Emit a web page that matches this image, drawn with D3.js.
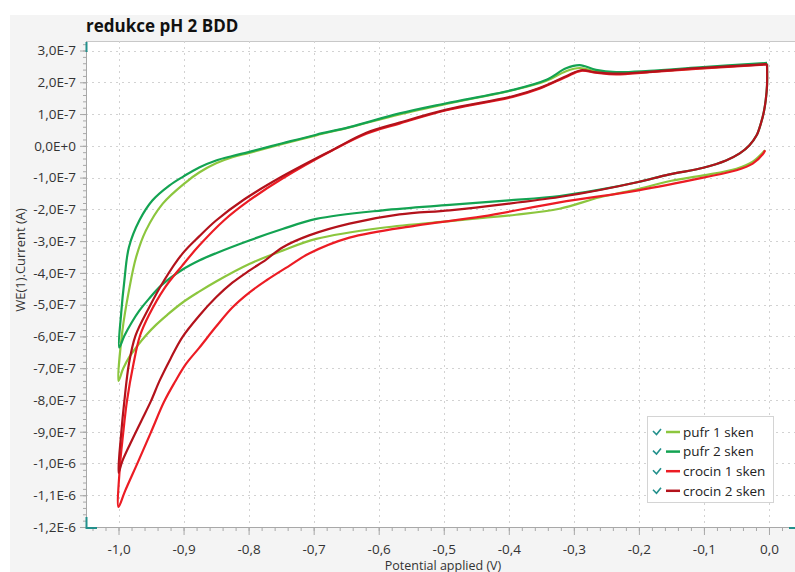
<!DOCTYPE html>
<html>
<head>
<meta charset="utf-8">
<script src="https://cdn.jsdelivr.net/npm/d3@7"></script>
<style>
  body { margin: 0; background: #fff; }
  svg { display: block; font-family: "Open Sans", "Noto Sans", sans-serif; }
</style>
</head>
<body>
<div id="graph"></div>
<script>

// cyclic voltammograms, [potential (V), current (A)], scan order
var pufr1 = [
  [-0.006, -0.14e-7], [-0.025, -0.50e-7], [-0.050, -0.72e-7], [-0.101, -0.93e-7],
  [-0.150, -1.10e-7], [-0.201, -1.36e-7], [-0.260, -1.62e-7], [-0.322, -1.98e-7],
  [-0.389, -2.17e-7], [-0.440, -2.27e-7], [-0.491, -2.37e-7], [-0.594, -2.58e-7],
  [-0.696, -2.93e-7], [-0.748, -3.30e-7], [-0.799, -3.72e-7], [-0.850, -4.27e-7],
  [-0.876, -4.59e-7], [-0.902, -4.94e-7], [-0.925, -5.32e-7], [-0.942, -5.63e-7],
  [-0.957, -5.95e-7], [-0.971, -6.30e-7], [-0.984, -6.67e-7], [-0.993, -7.02e-7],
  [-1.000, -7.40e-7],
  [-0.994, -5.82e-7], [-0.984, -4.56e-7], [-0.973, -3.51e-7], [-0.958, -2.67e-7],
  [-0.932, -1.82e-7], [-0.896, -1.14e-7], [-0.876, -0.84e-7], [-0.850, -0.55e-7],
  [-0.825, -0.36e-7], [-0.799, -0.22e-7], [-0.748, 0.06e-7], [-0.696, 0.33e-7],
  [-0.645, 0.58e-7], [-0.568, 0.99e-7], [-0.496, 1.32e-7], [-0.394, 1.75e-7],
  [-0.342, 2.05e-7], [-0.312, 2.35e-7], [-0.291, 2.45e-7], [-0.266, 2.34e-7],
  [-0.235, 2.29e-7], [-0.184, 2.33e-7], [-0.107, 2.44e-7], [-0.004, 2.58e-7]
];

var pufr2 = [
  [-0.003, 2.59e-7], [-0.003, 1.90e-7], [-0.005, 1.44e-7], [-0.008, 1.06e-7],
  [-0.012, 0.74e-7], [-0.019, 0.33e-7], [-0.030, 0.02e-7], [-0.045, -0.24e-7],
  [-0.066, -0.46e-7], [-0.101, -0.69e-7], [-0.153, -0.90e-7], [-0.201, -1.14e-7],
  [-0.260, -1.38e-7], [-0.322, -1.58e-7], [-0.400, -1.72e-7], [-0.491, -1.86e-7],
  [-0.594, -2.03e-7], [-0.696, -2.30e-7], [-0.748, -2.62e-7], [-0.799, -2.98e-7],
  [-0.850, -3.38e-7], [-0.876, -3.61e-7], [-0.902, -3.90e-7], [-0.933, -4.37e-7],
  [-0.953, -4.81e-7], [-0.968, -5.19e-7], [-0.980, -5.57e-7], [-0.991, -5.98e-7],
  [-0.999, -6.35e-7],
  [-0.996, -5.29e-7], [-0.991, -4.24e-7], [-0.984, -3.19e-7], [-0.968, -2.35e-7],
  [-0.948, -1.72e-7], [-0.922, -1.25e-7], [-0.900, -0.96e-7], [-0.876, -0.68e-7],
  [-0.850, -0.46e-7], [-0.825, -0.32e-7], [-0.799, -0.19e-7], [-0.748, 0.08e-7],
  [-0.696, 0.35e-7], [-0.645, 0.59e-7], [-0.568, 1.02e-7], [-0.496, 1.34e-7],
  [-0.394, 1.76e-7], [-0.342, 2.08e-7], [-0.312, 2.44e-7], [-0.291, 2.54e-7],
  [-0.266, 2.39e-7], [-0.235, 2.32e-7], [-0.184, 2.36e-7], [-0.107, 2.47e-7],
  [-0.003, 2.61e-7]
];

var crocin1 = [
  [-0.006, -0.14e-7], [-0.009, -0.25e-7], [-0.025, -0.56e-7], [-0.050, -0.77e-7],
  [-0.101, -1.00e-7], [-0.201, -1.40e-7], [-0.322, -1.78e-7], [-0.440, -2.22e-7],
  [-0.543, -2.51e-7], [-0.645, -2.89e-7], [-0.707, -3.39e-7], [-0.737, -3.77e-7],
  [-0.773, -4.24e-7], [-0.799, -4.62e-7], [-0.825, -5.09e-7], [-0.850, -5.69e-7],
  [-0.876, -6.36e-7], [-0.896, -6.86e-7], [-0.914, -7.46e-7], [-0.930, -8.06e-7],
  [-0.950, -9.01e-7], [-0.970, -9.95e-7], [-0.990, -10.87e-7], [-1.000, -11.37e-7],
  [-0.998, -10.13e-7], [-0.993, -9.08e-7], [-0.987, -8.03e-7], [-0.977, -6.86e-7],
  [-0.967, -5.98e-7], [-0.953, -5.32e-7], [-0.930, -4.50e-7], [-0.902, -3.77e-7],
  [-0.876, -3.14e-7], [-0.838, -2.35e-7], [-0.799, -1.72e-7], [-0.748, -1.03e-7],
  [-0.671, -0.14e-7], [-0.619, 0.38e-7], [-0.568, 0.70e-7], [-0.496, 1.12e-7],
  [-0.394, 1.54e-7], [-0.353, 1.80e-7], [-0.312, 2.17e-7], [-0.289, 2.36e-7],
  [-0.266, 2.30e-7], [-0.235, 2.25e-7], [-0.184, 2.32e-7], [-0.107, 2.43e-7],
  [-0.004, 2.56e-7]
];

var crocin2 = [
  [-0.003, 2.57e-7], [-0.003, 1.90e-7], [-0.005, 1.44e-7], [-0.008, 1.06e-7],
  [-0.012, 0.74e-7], [-0.019, 0.33e-7], [-0.030, 0.02e-7], [-0.045, -0.24e-7],
  [-0.066, -0.46e-7], [-0.101, -0.69e-7], [-0.153, -0.90e-7], [-0.201, -1.14e-7],
  [-0.260, -1.39e-7], [-0.322, -1.61e-7], [-0.400, -1.82e-7], [-0.491, -2.03e-7],
  [-0.568, -2.16e-7], [-0.645, -2.45e-7], [-0.707, -2.82e-7], [-0.748, -3.20e-7],
  [-0.773, -3.58e-7], [-0.799, -3.93e-7], [-0.825, -4.31e-7], [-0.850, -4.77e-7],
  [-0.876, -5.35e-7], [-0.902, -6.03e-7], [-0.920, -6.70e-7], [-0.937, -7.40e-7],
  [-0.950, -8.03e-7], [-0.965, -8.66e-7], [-0.982, -9.38e-7], [-0.994, -9.92e-7],
  [-1.000, -10.29e-7],
  [-0.996, -9.08e-7], [-0.991, -8.03e-7], [-0.984, -6.86e-7], [-0.974, -5.98e-7],
  [-0.953, -5.09e-7], [-0.930, -4.24e-7], [-0.902, -3.40e-7], [-0.876, -2.85e-7],
  [-0.850, -2.35e-7], [-0.807, -1.69e-7], [-0.748, -0.96e-7], [-0.671, -0.13e-7],
  [-0.619, 0.41e-7], [-0.568, 0.73e-7], [-0.496, 1.14e-7], [-0.394, 1.56e-7],
  [-0.353, 1.82e-7], [-0.312, 2.19e-7], [-0.289, 2.38e-7], [-0.266, 2.31e-7],
  [-0.235, 2.27e-7], [-0.184, 2.33e-7], [-0.107, 2.45e-7], [-0.003, 2.57e-7]
];

var seriesNames = ["pufr 1 sken", "pufr 2 sken", "crocin 1 sken", "crocin 2 sken"];
var seriesData = [pufr1, pufr2, crocin1, crocin2];
var seriesColors = ["#8cc63e", "#13a352", "#ec1c24", "#b3121b"];

var xTickValues = [-1.0, -0.9, -0.8, -0.7, -0.6, -0.5, -0.4, -0.3, -0.2, -0.1, 0.0];
var yTickValues = [3e-7, 2e-7, 1e-7, 0, -1e-7, -2e-7, -3e-7, -4e-7, -5e-7, -6e-7,
                   -7e-7, -8e-7, -9e-7, -1.0e-6, -1.1e-6, -1.2e-6];

var title = "redukce pH 2 BDD";
var xTitle = "Potential applied (V)";
var yTitle = "WE(1).Current (A)";

var width = 795;
var height = 572;
var plot = {left: 86, top: 41, right: 795, bottom: 527};
var teal = "#23908c";

var svg = d3.select("#graph").append("svg")
  .attr("width", width)
  .attr("height", height);

var x = d3.scaleLinear().domain([-1.05, 0.04]).range([plot.left, plot.right]);
var y = d3.scaleLinear().domain([-1.2e-6, 3.3e-7]).range([plot.bottom, plot.top]);

// panel backgrounds
svg.append("rect")
  .attr("x", 10).attr("y", 15)
  .attr("width", width - 10).attr("height", height - 15)
  .attr("fill", "#f4f4f4");

svg.append("rect")
  .attr("x", plot.left).attr("y", plot.top)
  .attr("width", plot.right - plot.left).attr("height", plot.bottom - plot.top)
  .attr("fill", "#fff");

svg.append("line")
  .attr("x1", plot.left).attr("x2", plot.right)
  .attr("y1", plot.top + 0.5).attr("y2", plot.top + 0.5)
  .attr("stroke", "#c8c8c8");

// dotted grid
var grid = svg.append("g").attr("class", "grid");
grid.selectAll(".vgrid").data(xTickValues).enter()
  .append("line")
  .attr("x1", function(d) { return Math.round(x(d)) + 0.5; })
  .attr("x2", function(d) { return Math.round(x(d)) + 0.5; })
  .attr("y1", plot.top).attr("y2", plot.bottom)
  .attr("stroke", "#d2d2d2")
  .attr("stroke-dasharray", "2,4");

grid.selectAll(".hgrid").data(yTickValues).enter()
  .append("line")
  .attr("x1", plot.left).attr("x2", plot.right)
  .attr("y1", function(d) { return Math.round(y(d)) + 0.5; })
  .attr("y2", function(d) { return Math.round(y(d)) + 0.5; })
  .attr("stroke", "#d2d2d2")
  .attr("stroke-dasharray", "2,4");

// curves
svg.append("clipPath").attr("id", "clip")
  .append("rect")
  .attr("x", plot.left).attr("y", plot.top)
  .attr("width", plot.right - plot.left).attr("height", plot.bottom - plot.top);

var line = d3.line()
  .x(function(d) { return x(d[0]); })
  .y(function(d) { return y(d[1]); })
  .curve(d3.curveCatmullRom.alpha(0.5));

svg.append("g").attr("clip-path", "url(#clip)")
  .selectAll("path").data(seriesData).enter()
  .append("path")
  .attr("d", line)
  .attr("fill", "none")
  .attr("stroke", function(d, i) { return seriesColors[i]; })
  .attr("stroke-width", 2.2)
  .attr("stroke-linejoin", "round");

// axes
function fmtCurrent(v) {
  var k = Math.round(v / 1e-7);
  if (k === 0) return "0,0E+0";
  if (Math.abs(k) >= 10) return (k / 10).toFixed(1).replace(".", ",") + "E-6";
  return k.toFixed(1).replace(".", ",") + "E-7";
}

function fmtPotential(v) {
  return v.toFixed(1).replace(".", ",");
}

var minorX = d3.range(-52, 3).map(function(k) { return k / 50; });
var minorY = d3.range(-60, 17).map(function(k) { return k * 0.2e-7; });

svg.append("g")
  .attr("transform", "translate(" + plot.left + ",0)")
  .call(d3.axisLeft(y).tickValues(yTickValues).tickSize(6).tickSizeOuter(0)
    .tickPadding(4).tickFormat(fmtCurrent));

svg.append("g")
  .attr("transform", "translate(" + plot.left + ",0)")
  .call(d3.axisLeft(y).tickValues(minorY).tickSize(3).tickSizeOuter(0).tickFormat(""));

svg.append("g")
  .attr("transform", "translate(0," + plot.bottom + ")")
  .call(d3.axisBottom(x).tickValues(xTickValues).tickSize(8).tickSizeOuter(0)
    .tickPadding(9).tickFormat(fmtPotential));

svg.append("g")
  .attr("transform", "translate(0," + plot.bottom + ")")
  .call(d3.axisBottom(x).tickValues(minorX).tickSize(4).tickSizeOuter(0).tickFormat(""));

svg.selectAll(".domain").attr("stroke", "#a8a8a8");
svg.selectAll(".tick line").attr("stroke", "#a8a8a8");
svg.selectAll(".tick text")
  .attr("fill", "#333")
  .style("font-size", "13.5px")
  .style("font-family", "'Open Sans', 'Noto Sans', sans-serif");

// range handles
svg.append("path")
  .attr("d", "M" + (plot.left + 0.5) + "," + (plot.top + 1) + "V" + (plot.top + 11))
  .attr("stroke", teal).attr("stroke-width", 2).attr("fill", "none");
svg.append("path")
  .attr("d", "M" + (plot.left + 0.5) + "," + (plot.bottom - 10) + "V" + (plot.bottom + 1) + "H" + (plot.left + 11))
  .attr("stroke", teal).attr("stroke-width", 2).attr("fill", "none");
svg.append("path")
  .attr("d", "M" + (plot.right - 6) + "," + (plot.bottom + 1) + "H" + plot.right)
  .attr("stroke", teal).attr("stroke-width", 2).attr("fill", "none");

// titles
svg.append("text")
  .attr("x", 86).attr("y", 32)
  .attr("font-size", "17px")
  .attr("font-weight", "bold")
  .attr("fill", "#111")
  .text(title);

svg.append("text")
  .attr("x", 443).attr("y", 569.5)
  .attr("text-anchor", "middle")
  .attr("font-size", "12.5px")
  .attr("fill", "#333")
  .text(xTitle);

svg.append("text")
  .attr("transform", "translate(25,260) rotate(-90)")
  .attr("text-anchor", "middle")
  .attr("font-size", "13px")
  .attr("fill", "#333")
  .text(yTitle);

// legend
var legend = svg.append("g").attr("class", "legend");
legend.append("rect")
  .attr("x", 647.5).attr("y", 416.5)
  .attr("width", 126).attr("height", 86)
  .attr("fill", "#fff")
  .attr("stroke", "#d4d4d4");

var rows = legend.selectAll(".row").data(seriesNames).enter()
  .append("g")
  .attr("transform", function(d, i) { return "translate(0," + (432 + i * 19.6) + ")"; });

rows.append("path")
  .attr("d", "M653,-1L656.5,2.5L661,-3")
  .attr("fill", "none")
  .attr("stroke", teal)
  .attr("stroke-width", 1.6);

rows.append("line")
  .attr("x1", 666).attr("x2", 680)
  .attr("y1", 0).attr("y2", 0)
  .attr("stroke", function(d, i) { return seriesColors[i]; })
  .attr("stroke-width", 2.5);

rows.append("text")
  .attr("x", 683).attr("y", 0)
  .attr("dy", "0.35em")
  .attr("font-size", "13.5px")
  .attr("fill", "#222")
  .text(function(d) { return d; });

</script>
</body>
</html>
